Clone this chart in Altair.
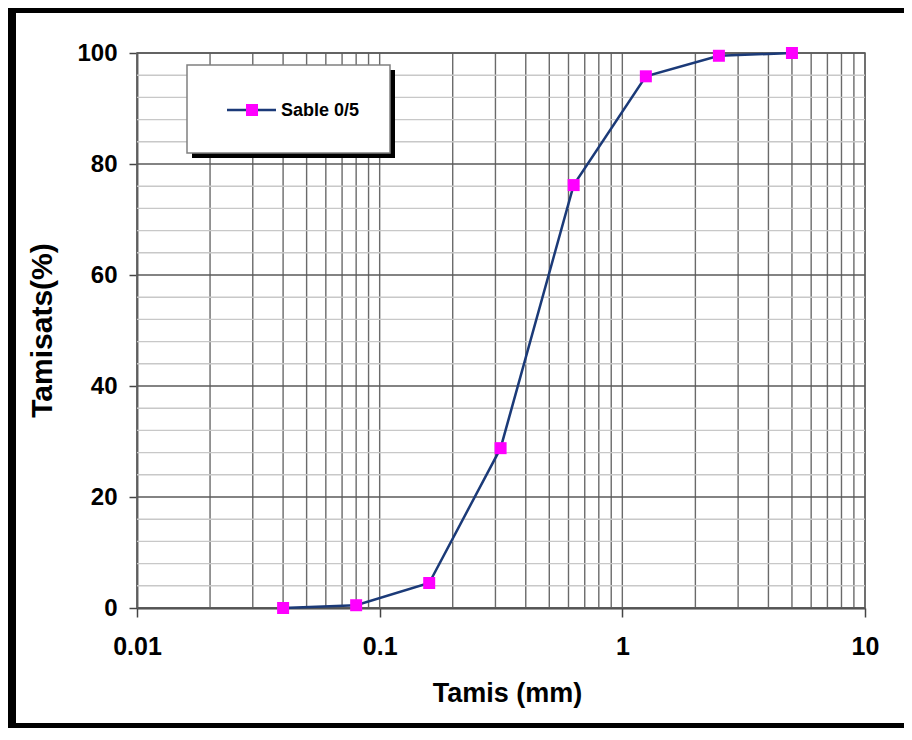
import altair as alt
import pandas as pd

# Data
tamis = [0.04, 0.08, 0.16, 0.315, 0.63, 1.25, 2.5, 5]
tamisats = [0.0, 0.5, 4.5, 28.8, 76.2, 95.8, 99.5, 100.0]
series_name = "Sable 0/5"

x_ticks = [0.01, 0.1, 1, 10]
y_ticks = [0, 20, 40, 60, 80, 100]
x_grid = [m * d for d in (0.01, 0.1, 1) for m in range(1, 10)] + [10]
y_grid_minor = [v for v in range(0, 101, 4) if v % 20 != 0]
y_grid_major = y_ticks

FONT = "Liberation Sans"
NAVY = "#1b3a78"
MAGENTA = "#ff00ff"

W, H = 728, 555
xscale = alt.Scale(type="log", domain=[0.01, 10], nice=False)
yscale = alt.Scale(domain=[0, 100], nice=False)

xaxis = alt.Axis(
    values=x_ticks, format="~g", grid=False, ticks=True, tickSize=9, tickColor="#444",
    tickWidth=1.5, domainColor="#444", domainWidth=1.8,
    labelFont=FONT, labelFontWeight="bold", labelFontSize=25, labelColor="black",
    labelPadding=17, labelFlush=False, labelOverlap=False,
    title="Tamis (mm)", titleFont=FONT, titleFontWeight="bold", titleFontSize=27,
    titleColor="black", titleX=370, titleY=72, titleBaseline="top",
)
yaxis = alt.Axis(
    values=y_ticks, grid=False, ticks=True, tickSize=8, tickColor="#444", tickWidth=1.5,
    domainColor="#444", domainWidth=1.8,
    labelFont=FONT, labelFontWeight="bold", labelFontSize=24, labelColor="black",
    labelPadding=12, labelFlush=False,
    title="Tamisats(%)", titleFont=FONT, titleFontWeight="bold", titleFontSize=30,
    titleColor="black", titleX=-80, titleY=277, titleAngle=-90, titleBaseline="bottom",
)

df = pd.DataFrame({"tamis": tamis, "tamisats": tamisats})
one = pd.DataFrame({"k": [0]})

vgrid = alt.Chart(pd.DataFrame({"tamis": x_grid})).mark_rule(
    color="#6a6a6a", strokeWidth=1.4
).encode(x=alt.X("tamis:Q", scale=xscale, axis=xaxis))

hminor = alt.Chart(pd.DataFrame({"tamisats": y_grid_minor})).mark_rule(
    color="#c8c8c8", strokeWidth=1.4
).encode(y=alt.Y("tamisats:Q", scale=yscale, axis=yaxis))

hmajor = alt.Chart(pd.DataFrame({"tamisats": y_grid_major})).mark_rule(
    color="#5a5a5a", strokeWidth=1.4
).encode(y=alt.Y("tamisats:Q", scale=yscale, axis=yaxis))

# legend (drawn)
leg_shadow = alt.Chart(one).mark_rect(color="black").encode(
    x=alt.value(55), x2=alt.value(258), y=alt.value(17), y2=alt.value(105)
)
leg_box = alt.Chart(one).mark_rect(
    fill="white", stroke="#808080", strokeWidth=1.5
).encode(x=alt.value(50), x2=alt.value(253), y=alt.value(12), y2=alt.value(100))
leg_line = alt.Chart(one).mark_rule(color=NAVY, strokeWidth=2.5).encode(
    x=alt.value(90), x2=alt.value(139), y=alt.value(57)
)
leg_pt = alt.Chart(one).mark_point(
    shape="square", filled=True, color=MAGENTA, size=144, opacity=1
).encode(x=alt.value(115), y=alt.value(57))
leg_text = alt.Chart(pd.DataFrame({"t": [series_name]})).mark_text(
    align="left", baseline="middle", font=FONT, fontWeight="bold", fontSize=18, color="black"
).encode(x=alt.value(144), y=alt.value(58), text="t:N")

line = alt.Chart(df).mark_line(color=NAVY, strokeWidth=2.5).encode(
    x=alt.X("tamis:Q", scale=xscale, axis=xaxis),
    y=alt.Y("tamisats:Q", scale=yscale, axis=yaxis),
)
pts = alt.Chart(df).mark_point(
    shape="square", filled=True, color=MAGENTA, size=144, opacity=1
).encode(
    x=alt.X("tamis:Q", scale=xscale, axis=xaxis),
    y=alt.Y("tamisats:Q", scale=yscale, axis=yaxis),
)

# outer black frame (decoration)
f_left = alt.Chart(one).mark_rect(color="black").encode(
    x=alt.value(-129), x2=alt.value(-121), y=alt.value(-45), y2=alt.value(675)
)
f_top = alt.Chart(one).mark_rect(color="black").encode(
    x=alt.value(-129), x2=alt.value(770), y=alt.value(-45), y2=alt.value(-40)
)
f_bot = alt.Chart(one).mark_rect(color="black").encode(
    x=alt.value(-129), x2=alt.value(770), y=alt.value(670), y2=alt.value(675)
)

chart = alt.layer(
    vgrid, hminor, hmajor, leg_shadow, leg_box, line, pts, leg_line, leg_pt, leg_text,
    f_left, f_top, f_bot,
).properties(
    width=W, height=H,
    autosize=alt.AutoSizeParams(type="none"),
    padding={"left": 129, "top": 45, "right": 39, "bottom": 120},
    background="white",
).configure_view(stroke="#555", strokeWidth=1.5)

chart.save("out.html", embed_options={"renderer": "svg", "actions": False})
